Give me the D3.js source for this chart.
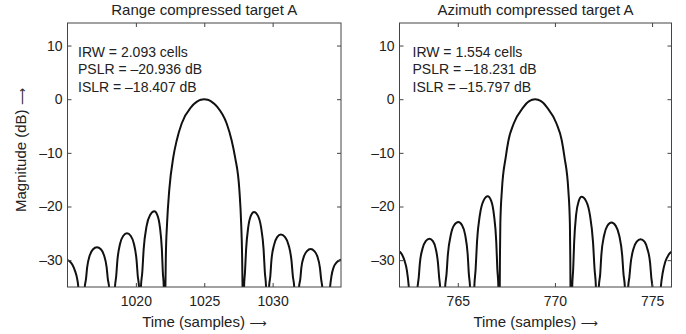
<!DOCTYPE html>
<html>
<head>
<meta charset="utf-8">
<script src="https://cdn.jsdelivr.net/npm/d3@7"></script>
<style>
  body { margin: 0; background: #fff; }
  svg text { font-family: "Liberation Sans", Arial, Helvetica, sans-serif; fill: #222; }
</style>
</head>
<body>
<div id="chart"></div>
<script>
// values (time in samples, magnitude in dB)
let rangeTime = [1014.95, 1015.15, 1015.35, 1015.55, 1015.7, 1015.79, 1016.0,
  1016.26, 1016.35, 1016.44, 1016.63, 1016.87, 1017.15, 1017.44, 1017.67, 1017.86, 1017.95, 1018.04, 1018.27,
  1018.47, 1018.56, 1018.65, 1018.84, 1019.07, 1019.35, 1019.63, 1019.86, 1020.05, 1020.14, 1020.23, 1020.3,
  1020.37, 1020.47, 1020.57, 1020.78, 1021.04, 1021.35, 1021.57, 1021.75, 1021.9, 1021.97, 1022.04, 1022.1,
  1022.16, 1022.19, 1022.28, 1022.44, 1022.74, 1022.99, 1023.35, 1024.06, 1024.25, 1024.5, 1024.75, 1025,
  1025.25, 1025.5, 1025.75, 1025.95, 1026.64, 1027.0, 1027.25, 1027.57, 1027.7, 1027.77, 1027.8, 1027.85,
  1027.91, 1027.98, 1028.06, 1028.22, 1028.41, 1028.64, 1028.92, 1029.15, 1029.34, 1029.43, 1029.52, 1029.63,
  1029.74, 1029.83, 1029.91, 1030.1, 1030.33, 1030.6, 1030.91, 1031.17, 1031.38, 1031.48, 1031.58, 1031.75,
  1031.93, 1032.02, 1032.1, 1032.29, 1032.51, 1032.78, 1033.05, 1033.27, 1033.46, 1033.55, 1033.63, 1033.9,
  1034.2, 1034.3, 1034.45, 1034.65, 1034.85, 1035.05];
let rangeDb = [-29.9, -30.2, -30.8, -32.0, -33.4, -35, -50,
  -35, -33.52, -31.3, -29.08, -27.97, -27.6, -27.97, -29.08, -31.3, -33.52, -35, -50,
  -35, -33, -30, -27, -25.5, -25.0, -25.5, -27, -30, -33, -35, -50,
  -35, -32.2, -27.95, -23.7, -21.6, -20.9, -21.6, -23.7, -27.95, -32.2, -35, -50,
  -35, -29.4, -23.2, -16.96, -10.75, -7.64, -4.53, -1.43, -0.9, -0.4, -0.1, 0,
  -0.1, -0.4, -0.9, -1.43, -4.53, -7.64, -10.75, -16.96, -23.2, -29.4, -35, -50,
  -35, -32.2, -28, -23.8, -21.7, -21.0, -21.7, -23.8, -28, -32.2, -35, -50,
  -35, -33, -30.1, -27.2, -25.7, -25.2, -25.7, -27.2, -30.1, -33, -35, -50,
  -35, -33.6, -31.45, -29.3, -28.3, -27.9, -28.3, -29.3, -31.45, -33.6, -35, -50,
  -35, -33.0, -31.4, -30.5, -30.1, -29.9];

let azTime = [761.95, 762.0, 762.12, 762.25, 762.38, 762.48, 762.7,
  762.93, 762.99, 763.05, 763.19, 763.35, 763.54, 763.72, 763.86, 763.98, 764.04, 764.09, 764.22,
  764.35, 764.42, 764.49, 764.64, 764.81, 765.03, 765.22, 765.38, 765.51, 765.57, 765.63, 765.74,
  765.85, 765.92, 765.99, 766.14, 766.32, 766.54, 766.72, 766.86, 766.98, 767.035, 767.09, 767.13,
  767.16, 767.17, 767.19, 767.27, 767.47, 767.61, 767.88, 768.39, 768.53, 768.68, 768.83, 768.98,
  769.13, 769.28, 769.43, 769.57, 770.08, 770.35, 770.49, 770.69, 770.77, 770.79, 770.8, 770.84,
  770.89, 770.94, 770.99, 771.09, 771.22, 771.37, 771.61, 771.8, 771.96, 772.04, 772.11, 772.18,
  772.26, 772.33, 772.39, 772.53, 772.7, 772.91, 773.13, 773.31, 773.46, 773.53, 773.6, 773.68,
  773.77, 773.83, 773.9, 774.04, 774.21, 774.41, 774.61, 774.76, 774.9, 774.96, 775.02, 775.23,
  775.45, 775.55, 775.68, 775.85, 776.0, 776.05];
let azDb = [-28.3, -28.4, -28.9, -30.0, -31.9, -35, -50,
  -35, -33.2, -30.5, -27.8, -26.45, -26.0, -26.45, -27.8, -30.5, -33.2, -35, -50,
  -35, -32.6, -28.95, -25.3, -23.5, -22.9, -23.5, -25.3, -28.95, -32.6, -35, -50,
  -35, -31.6, -26.55, -21.5, -18.95, -18.1, -18.95, -21.5, -26.55, -31.6, -35, -50,
  -35, -29.4, -23.2, -16.96, -10.75, -7.64, -4.53, -1.43, -0.8, -0.36, -0.1, 0,
  -0.1, -0.36, -0.8, -1.43, -4.53, -7.64, -10.75, -16.96, -23.2, -29.4, -35, -50,
  -35, -31.64, -26.6, -21.56, -19.04, -18.2, -19.04, -21.56, -26.6, -31.64, -35, -50,
  -35, -32.6, -29, -25.4, -23.6, -23.0, -23.6, -25.4, -29, -32.6, -35, -50,
  -35, -33.2, -30.55, -27.9, -26.55, -26.1, -26.55, -27.9, -30.55, -33.2, -35, -50,
  -35, -32.3, -30.3, -29.0, -28.4, -28.2];

let rangeTicks = [1020, 1025, 1030];
let azTicks = [765, 770, 775];
let dbTicks = [-30, -20, -10, 0, 10];

let titles = ["Range compressed target A", "Azimuth compressed target A"];
let rangeNotes = ["IRW = 2.093 cells", "PSLR = \u201320.936 dB", "ISLR = \u201318.407 dB"];
let azNotes = ["IRW = 1.554 cells", "PSLR = \u201318.231 dB", "ISLR = \u201315.797 dB"];

const W = 686, H = 334;
const plotTop = 23, plotBottom = 287;

let svg = d3.select("#chart")
  .append("svg")
  .attr("width", W)
  .attr("height", H);

function fmt(v) {
  // MATLAB style dash for negatives
  return v < 0 ? "\u2013" + Math.abs(v) : "" + v;
}

// label text followed by a long thin arrow
function arrowLabel(sel, label) {
  sel.append("tspan").text(label + " ");
  sel.append("tspan")
    .style("font-family", "'DejaVu Sans', sans-serif")
    .style("font-size", "12px")
    .text("\u27F6");
}

function drawPanel(id, left, right, xDomain, xs, ys, xTicks, title, notes, noteDx) {
  let x = d3.scaleLinear().domain(xDomain).range([left, right]);
  let y = d3.scaleLinear().domain([-35, 14.2]).range([plotBottom, plotTop]);

  let g = svg.append("g").attr("id", id);

  g.append("clipPath").attr("id", id + "-clip")
    .append("rect")
    .attr("x", left).attr("y", plotTop)
    .attr("width", right - left).attr("height", plotBottom - plotTop);

  let pts = xs.map((t, i) => [t, ys[i]]);
  let line = d3.line()
    .x(d => x(d[0]))
    .y(d => y(d[1]))
    .curve(d3.curveMonotoneX);

  g.append("path")
    .datum(pts)
    .attr("clip-path", "url(#" + id + "-clip)")
    .attr("d", line)
    .attr("fill", "none")
    .attr("stroke", "#111")
    .attr("stroke-width", 2)
    .attr("stroke-linejoin", "round");

  // ticks pointing inward on all four sides (matlab box)
  let tl = 4;
  g.append("g")
    .attr("transform", "translate(0," + plotBottom + ")")
    .call(d3.axisBottom(x).tickValues(xTicks).tickSizeInner(-tl).tickSizeOuter(0).tickPadding(9).tickFormat(fmt));
  g.append("g")
    .attr("transform", "translate(0," + plotTop + ")")
    .call(d3.axisTop(x).tickValues(xTicks).tickSizeInner(-tl).tickSizeOuter(0).tickFormat(""));
  g.append("g")
    .attr("transform", "translate(" + left + ",0)")
    .call(d3.axisLeft(y).tickValues(dbTicks).tickSizeInner(-tl).tickSizeOuter(0).tickPadding(5).tickFormat(fmt));
  g.append("g")
    .attr("transform", "translate(" + right + ",0)")
    .call(d3.axisRight(y).tickValues(dbTicks).tickSizeInner(-tl).tickSizeOuter(0).tickFormat(""));

  g.selectAll(".domain").remove();
  g.selectAll(".tick line").attr("stroke", "#444");
  g.selectAll(".tick text").style("font-size", "14px").attr("fill", "#222");

  g.append("rect")
    .attr("x", left).attr("y", plotTop)
    .attr("width", right - left).attr("height", plotBottom - plotTop)
    .attr("fill", "none")
    .attr("stroke", "#444")
    .attr("stroke-width", 1);

  g.append("text")
    .attr("x", (left + right) / 2)
    .attr("y", 15)
    .attr("text-anchor", "middle")
    .style("font-size", "15px")
    .text(title);

  g.selectAll(".note")
    .data(notes)
    .enter()
    .append("text")
    .attr("class", "note")
    .attr("x", left + noteDx)
    .attr("y", (d, i) => 56.5 + i * 17.5)
    .style("font-size", "14px")
    .text(d => d);

  g.append("text")
    .attr("x", (left + right) / 2)
    .attr("y", 327)
    .attr("text-anchor", "middle")
    .style("font-size", "15px")
    .call(arrowLabel, "Time (samples)");
}

drawPanel("range", 67.5, 341, [1015, 1035], rangeTime, rangeDb, rangeTicks, titles[0], rangeNotes, 10.5);
drawPanel("azimuth", 399.5, 671.5, [762, 776], azTime, azDb, azTicks, titles[1], azNotes, 13);

svg.append("text")
  .attr("transform", "translate(26,150) rotate(-90)")
  .attr("text-anchor", "middle")
  .style("font-size", "15px")
  .call(arrowLabel, "Magnitude (dB)");
</script>
</body>
</html>
